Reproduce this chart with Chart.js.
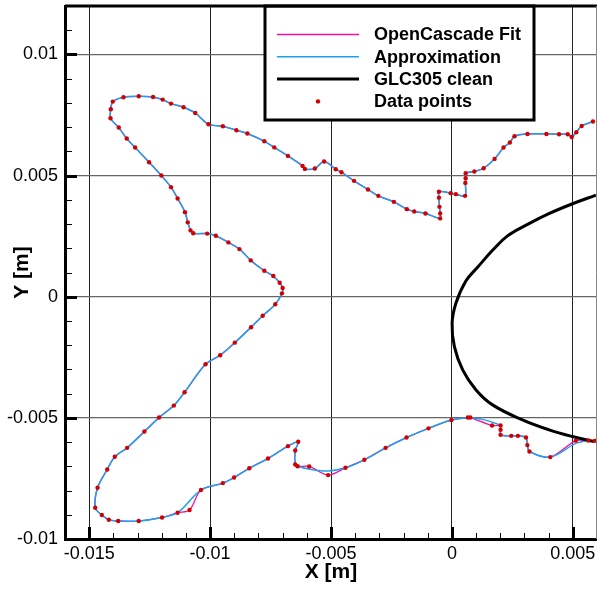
<!DOCTYPE html>
<html lang="en">
  <head>
    <meta charset="utf-8" />
    <title>GLC305 contour fit</title>
    <style>
      body { margin: 0; background: #fff; }
    </style>
  </head>
  <body>
    <canvas id="contourChart" width="597" height="590"></canvas>
    <script src="https://cdn.jsdelivr.net/npm/chart.js@4.4.1/dist/chart.umd.min.js"></script>
    <script>
      // axis ticks (metres)
      const xTicks = [-0.015, -0.01, -0.005, 0, 0.005];
      const xTickLabels = ['-0.015', '-0.01', '-0.005', '0', '0.005'];
      const yTicks = [-0.01, -0.005, 0, 0.005, 0.01];
      const yTickLabels = ['-0.01', '-0.005', '0', '0.005', '0.01'];

      const seriesLabels = ['OpenCascade Fit', 'Approximation', 'GLC305 clean', 'Data points'];

      // measured ice contour points [x, y]
      const dataPoints = [
        [0.005833, 0.00723], [0.005367, 0.007049], [0.005144, 0.006789], [0.004955, 0.006595], [0.00479, 0.006707],
        [0.004431, 0.006707], [0.003908, 0.006719], [0.003125, 0.006719], [0.002589, 0.006624], [0.002399, 0.006365],
        [0.002135, 0.006158], [0.001764, 0.005688], [0.001311, 0.005305], [0.000927, 0.005169], [0.000569, 0.005099],
        [0.000569, 0.004893], [0.000556, 0.004699], [0.000544, 0.004163], [0.000165, 0.004233], [-0.000049, 0.004275],
        [-0.000536, 0.004336], [-0.000536, 0.004089], [-0.000515, 0.00371], [-0.000486, 0.003438], [-0.000486, 0.003232],
        [-0.001092, 0.003438], [-0.001558, 0.00352], [-0.001863, 0.003615], [-0.002399, 0.003916], [-0.003042, 0.004163],
        [-0.003471, 0.004427], [-0.004048, 0.004782], [-0.004567, 0.00514], [-0.004802, 0.005264], [-0.005285, 0.005581],
        [-0.005668, 0.005293], [-0.00608, 0.005276], [-0.006175, 0.0054], [-0.006781, 0.005812], [-0.007345, 0.006163],
        [-0.007758, 0.006418], [-0.008458, 0.006735], [-0.008912, 0.006871], [-0.009472, 0.007036], [-0.010066, 0.007119],
        [-0.010614, 0.007585], [-0.011097, 0.00782], [-0.011616, 0.007972], [-0.011962, 0.008137], [-0.012358, 0.008244],
        [-0.012951, 0.008273], [-0.013582, 0.008232], [-0.014023, 0.008054], [-0.014106, 0.007737], [-0.014118, 0.007366],
        [-0.013776, 0.006983], [-0.013446, 0.006529], [-0.0131, 0.006158], [-0.012523, 0.005552], [-0.012016, 0.005004],
        [-0.011616, 0.004522], [-0.011344, 0.004056], [-0.011039, 0.003491], [-0.010923, 0.003071], [-0.010808, 0.002737],
        [-0.010697, 0.002617], [-0.01012, 0.002605], [-0.009761, 0.002514], [-0.009242, 0.002242], [-0.008788, 0.001966],
        [-0.008318, 0.0015], [-0.007758, 0.001072], [-0.007387, 0.000853], [-0.007123, 0.000577], [-0.006999, 0.000359],
        [-0.007028, 0.00014], [-0.007304, -0.000313], [-0.007824, -0.000783], [-0.008306, -0.001261], [-0.008978, -0.001896],
        [-0.009584, -0.002416], [-0.01019, -0.002787], [-0.011055, -0.003941], [-0.0115, -0.004493], [-0.012111, -0.004988],
        [-0.012716, -0.005565], [-0.01343, -0.006237], [-0.013941, -0.006608], [-0.014254, -0.007131], [-0.014654, -0.007885],
        [-0.014749, -0.00871], [-0.014477, -0.009011], [-0.014188, -0.009205], [-0.013801, -0.009258], [-0.012951, -0.009258],
        [-0.011987, -0.00911], [-0.011344, -0.008916], [-0.010849, -0.008805], [-0.010379, -0.00798], [-0.009472, -0.007692],
        [-0.009007, -0.007461], [-0.00838, -0.007082], [-0.007605, -0.006678], [-0.006781, -0.006167], [-0.006356, -0.005989],
        [-0.00648, -0.006348], [-0.00648, -0.006925], [-0.006381, -0.007], [-0.005903, -0.007007], [-0.00512, -0.007362],
        [-0.004402, -0.007061], [-0.003619, -0.006731], [-0.002741, -0.006237], [-0.001876, -0.005812], [-0.000969, -0.005433],
        [-0.000021, -0.005091], [0.00066, -0.004988], [0.000763, -0.004988], [0.001661, -0.005317], [0.002012, -0.005317],
        [0.002012, -0.005495], [0.002012, -0.005701], [0.002453, -0.005742], [0.002729, -0.005742], [0.003063, -0.005812],
        [0.00312, -0.006125], [0.003207, -0.006389], [0.004068, -0.00662], [0.005124, -0.00594], [0.005639, -0.005936],
        [0.005907, -0.005948]
      ];

      // smoothed approximation curve (skips the small wiggles)
      const approxPoints = [
        [0.005833, 0.00723], [0.005367, 0.007049], [0.005144, 0.006789], [0.004955, 0.006595], [0.00479, 0.006707],
        [0.004431, 0.006707], [0.003908, 0.006719], [0.003125, 0.006719], [0.002589, 0.006624], [0.002399, 0.006365],
        [0.002135, 0.006158], [0.001764, 0.005688], [0.001311, 0.005305], [0.000927, 0.005169], [0.000569, 0.005099],
        [0.000569, 0.004893], [0.000556, 0.004699], [0.000544, 0.004163], [0.000165, 0.004233], [-0.000049, 0.004275],
        [-0.000536, 0.004336], [-0.000536, 0.004089], [-0.000515, 0.00371], [-0.000486, 0.003438], [-0.000486, 0.003232],
        [-0.001092, 0.003438], [-0.001558, 0.00352], [-0.001863, 0.003615], [-0.002399, 0.003916], [-0.003042, 0.004163],
        [-0.003471, 0.004427], [-0.004048, 0.004782], [-0.004567, 0.00514], [-0.004802, 0.005264], [-0.005285, 0.005581],
        [-0.005668, 0.005293], [-0.00608, 0.005276], [-0.006175, 0.0054], [-0.006781, 0.005812], [-0.007345, 0.006163],
        [-0.007758, 0.006418], [-0.008458, 0.006735], [-0.008912, 0.006871], [-0.009472, 0.007036], [-0.010066, 0.007119],
        [-0.010614, 0.007585], [-0.011097, 0.00782], [-0.011616, 0.007972], [-0.011962, 0.008137], [-0.012358, 0.008244],
        [-0.012951, 0.008273], [-0.013582, 0.008232], [-0.014023, 0.008054], [-0.014106, 0.007737], [-0.014118, 0.007366],
        [-0.013776, 0.006983], [-0.013446, 0.006529], [-0.0131, 0.006158], [-0.012523, 0.005552], [-0.012016, 0.005004],
        [-0.011616, 0.004522], [-0.011344, 0.004056], [-0.011039, 0.003491], [-0.010923, 0.003071], [-0.010808, 0.002737],
        [-0.010697, 0.002617], [-0.01012, 0.002605], [-0.009761, 0.002514], [-0.009242, 0.002242], [-0.008788, 0.001966],
        [-0.008318, 0.0015], [-0.007758, 0.001072], [-0.007387, 0.000853], [-0.007123, 0.000577], [-0.006999, 0.000359],
        [-0.007028, 0.00014], [-0.007304, -0.000313], [-0.007824, -0.000783], [-0.008306, -0.001261], [-0.008978, -0.001896],
        [-0.009584, -0.002416], [-0.01019, -0.002787], [-0.011055, -0.003941], [-0.0115, -0.004493], [-0.012111, -0.004988],
        [-0.012716, -0.005565], [-0.01343, -0.006237], [-0.013941, -0.006608], [-0.014254, -0.007131], [-0.014654, -0.007885],
        [-0.014749, -0.00871], [-0.014477, -0.009011], [-0.014188, -0.009205], [-0.013801, -0.009258], [-0.012951, -0.009258],
        [-0.011987, -0.00911], [-0.011344, -0.008916], [-0.010379, -0.00798], [-0.009472, -0.007692],
        [-0.009007, -0.007461], [-0.00838, -0.007082], [-0.007605, -0.006678], [-0.006781, -0.006167], [-0.006356, -0.005989],
        [-0.00648, -0.006348], [-0.00648, -0.006925], [-0.006381, -0.007], [-0.005876, -0.007117], [-0.00512, -0.007197],
        [-0.004402, -0.007061], [-0.003619, -0.006731], [-0.002741, -0.006237], [-0.001876, -0.005812], [-0.000969, -0.005433],
        [-0.000021, -0.005091], [0.00066, -0.004988], [0.000763, -0.004988], [0.00127, -0.005062], [0.002012, -0.005317],
        [0.002012, -0.005495], [0.002012, -0.005701], [0.002453, -0.005742], [0.002729, -0.005742], [0.003063, -0.005812],
        [0.00312, -0.006125], [0.003207, -0.006389], [0.004068, -0.00662], [0.005124, -0.006051], [0.005639, -0.005936],
        [0.005907, -0.005948]
      ];

      // clean GLC305 airfoil leading edge
      const glcPoints = [
        [0.005956, 0.004192], [0.004988, 0.003838], [0.004031, 0.003438], [0.003207, 0.003026], [0.002288, 0.002502],
        [0.00169, 0.001925], [0.00108, 0.001237], [0.000577, 0.000647], [0.000165, -0.000272], [0.000008, -0.001096],
        [0.000103, -0.002061], [0.000445, -0.003021], [0.000998, -0.003846], [0.001682, -0.004464], [0.002918, -0.005083],
        [0.004019, -0.005495], [0.00498, -0.005771], [0.005874, -0.005977]
      ];

      const FONT = "'Liberation Sans', Arial, sans-serif";
      const minorStep = 0.001;
      const toXY = (pts) => pts.map(([x, y]) => ({ x, y }));

      // white legend box drawn inside the plot, Tecplot style
      const legendBox = {
        id: 'legendBox',
        afterDatasetsDraw(chart) {
          const { ctx } = chart;
          const left = 265, top = 6, right = 534, bottom = 120;
          ctx.save();
          ctx.fillStyle = '#fff';
          ctx.fillRect(left, top, right - left, bottom - top);
          ctx.strokeStyle = '#000';
          ctx.lineWidth = 3;
          ctx.strokeRect(left, top, right - left, bottom - top);
          ctx.font = `bold 18px ${FONT}`;
          ctx.textBaseline = 'middle';
          chart.data.datasets.forEach((ds, i) => {
            const rowY = 34.5 + i * 22.3;
            if (ds.type === 'line') {
              ctx.strokeStyle = ds.borderColor;
              ctx.lineWidth = ds.borderWidth;
              ctx.beginPath();
              ctx.moveTo(277, rowY);
              ctx.lineTo(359, rowY);
              ctx.stroke();
            } else {
              ctx.fillStyle = ds.backgroundColor;
              ctx.beginPath();
              ctx.arc(318, rowY, ds.pointRadius, 0, Math.PI * 2);
              ctx.fill();
            }
            ctx.fillStyle = '#000';
            ctx.fillText(ds.label, 374, rowY + 1);
          });
          ctx.restore();
        },
      };

      // inward major/minor ticks plus the top and right frame
      const frame = {
        id: 'frame',
        afterDraw(chart) {
          const { ctx, chartArea: a, scales } = chart;
          const { x, y } = scales;
          ctx.save();
          ctx.strokeStyle = '#000';
          for (let i = Math.ceil(x.min / minorStep); i <= Math.floor(x.max / minorStep); i++) {
            const major = i % 5 === 0;
            const px = Math.round(x.getPixelForValue(i * minorStep)) + 0.5;
            ctx.lineWidth = major ? 3 : 1;
            ctx.beginPath();
            ctx.moveTo(px, a.bottom);
            ctx.lineTo(px, a.bottom - (major ? 12 : 6));
            ctx.stroke();
          }
          for (let i = Math.ceil(y.min / minorStep); i <= Math.floor(y.max / minorStep); i++) {
            const major = i % 5 === 0;
            const py = Math.round(y.getPixelForValue(i * minorStep)) + 0.5;
            ctx.lineWidth = major ? 3 : 1;
            ctx.beginPath();
            ctx.moveTo(a.left, py);
            ctx.lineTo(a.left + (major ? 12 : 7), py);
            ctx.stroke();
          }
          ctx.lineWidth = 3;
          ctx.beginPath();
          ctx.moveTo(a.left, a.top);
          ctx.lineTo(a.right, a.top);
          ctx.stroke();
          ctx.lineWidth = 1;
          ctx.strokeStyle = '#888';
          ctx.beginPath();
          ctx.moveTo(a.right - 0.5, a.top);
          ctx.lineTo(a.right - 0.5, a.bottom);
          ctx.stroke();
          ctx.restore();
        },
      };

      const tickFont = { family: FONT, size: 18 };
      const titleFont = { family: FONT, size: 21, weight: 'bold' };

      new Chart(document.getElementById('contourChart'), {
        type: 'line',
        data: {
          datasets: [
            {
              type: 'line',
              label: seriesLabels[0],
              data: toXY(dataPoints),
              borderColor: '#f5109e',
              borderWidth: 1.3,
              pointRadius: 0,
              fill: false,
              tension: 0.3,
              order: 3,
            },
            {
              type: 'line',
              label: seriesLabels[1],
              data: toXY(approxPoints),
              borderColor: '#1ea0f2',
              borderWidth: 1.5,
              pointRadius: 0,
              fill: false,
              tension: 0.35,
              order: 2,
            },
            {
              type: 'line',
              label: seriesLabels[2],
              data: toXY(glcPoints),
              borderColor: '#000',
              borderWidth: 3,
              pointRadius: 0,
              fill: false,
              tension: 0.4,
              order: 1,
            },
            {
              type: 'scatter',
              label: seriesLabels[3],
              data: toXY(dataPoints),
              showLine: false,
              backgroundColor: '#d40000',
              borderWidth: 0,
              pointRadius: 2.2,
              order: 0,
            },
          ],
        },
        options: {
          responsive: false,
          animation: false,
          events: [],
          layout: { autoPadding: false, padding: { top: 6, right: 0, left: 0, bottom: 0 } },
          plugins: { legend: { display: false }, tooltip: { enabled: false } },
          scales: {
            x: {
              type: 'linear',
              min: -0.016,
              max: 0.006,
              afterFit: (s) => { s.height = 51; s.paddingLeft = 0; s.paddingRight = 0; },
              afterBuildTicks: (s) => { s.ticks = xTicks.map((v) => ({ value: v })); },
              ticks: {
                callback: (v, i) => xTickLabels[i],
                font: tickFont,
                color: '#000',
                padding: 4,
                maxRotation: 0,
                autoSkip: false,
              },
              grid: { color: '#222', lineWidth: 1, drawTicks: false },
              border: { color: '#000', width: 3 },
              title: { display: true, text: 'X [m]', font: titleFont, color: '#000', padding: { top: 0, bottom: 5 } },
            },
            y: {
              type: 'linear',
              min: -0.01,
              max: 0.012,
              afterFit: (s) => { s.width = 65; s.paddingTop = 0; s.paddingBottom = 0; },
              afterBuildTicks: (s) => { s.ticks = yTicks.map((v) => ({ value: v })); },
              ticks: {
                callback: (v, i) => yTickLabels[i],
                font: tickFont,
                color: '#000',
                padding: 7,
                autoSkip: false,
              },
              grid: { color: '#666', lineWidth: 1.2, drawTicks: false },
              border: { color: '#000', width: 3 },
              title: { display: true, text: 'Y [m]', font: titleFont, color: '#000', padding: { top: 10, bottom: 0 } },
            },
          },
        },
        plugins: [legendBox, frame],
      });
    </script>
  </body>
</html>
